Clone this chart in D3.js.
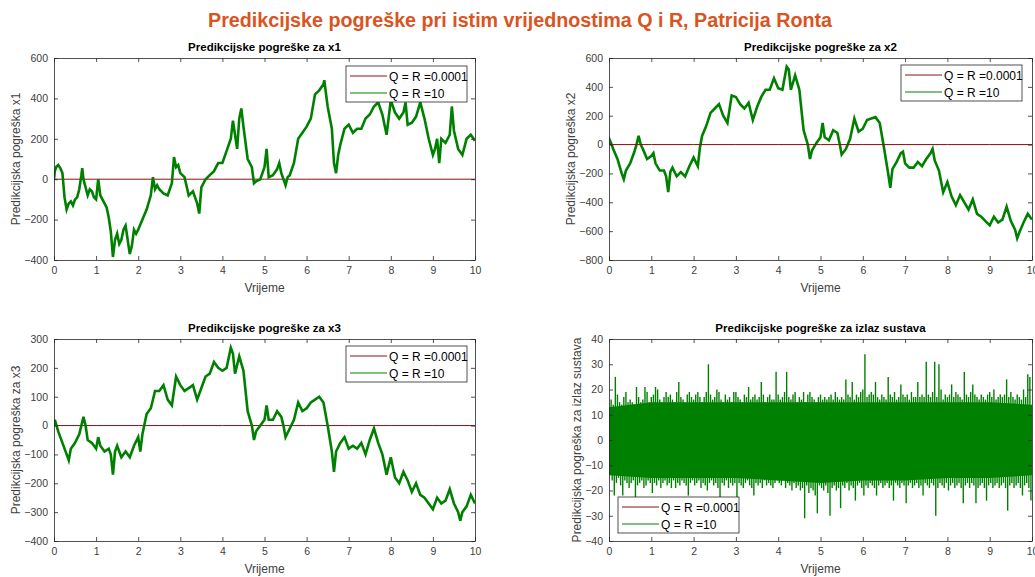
<!DOCTYPE html>
<html>
<head>
<meta charset="utf-8">
<script src="https://cdn.jsdelivr.net/npm/d3@7"></script>
<style>
  body { margin: 0; background: #fff; }
  svg { display: block; font-family: "Liberation Sans", Arial, sans-serif; }
</style>
</head>
<body>
<svg id="chart" width="1035" height="577"></svg>
<script>
// ---- data ----
var mainTitle = "Predikcijske pogreške pri istim vrijednostima Q i R, Patricija Ronta"
var legendLabels = ["Q = R =0.0001", "Q = R =10"]
var xTicks = [0, 1, 2, 3, 4, 5, 6, 7, 8, 9, 10]

// red series (Q = R = 0.0001) stays practically at zero
var redT = [0, 1, 2, 3, 4, 5, 6, 7, 8, 9, 10]
var redV = [0, 0, 0, 0, 0, 0, 0, 0, 0, 0, 0]

var x1T = [0, 0.02, 0.05, 0.1, 0.15, 0.2, 0.25, 0.3, 0.35, 0.4, 0.45, 0.5, 0.55, 0.6, 0.65, 0.67, 0.7, 0.75, 0.8, 0.85, 0.9, 0.95, 1.0, 1.05, 1.1, 1.15, 1.2, 1.25, 1.3, 1.35, 1.4, 1.45, 1.5, 1.55, 1.6, 1.65, 1.7, 1.75, 1.8, 1.85, 1.9, 1.95, 2.0, 2.1, 2.2, 2.3, 2.35, 2.4, 2.45, 2.5, 2.6, 2.7, 2.8, 2.85, 2.9, 2.95, 3.0, 3.1, 3.2, 3.3, 3.4, 3.45, 3.5, 3.6, 3.7, 3.8, 3.9, 4.0, 4.1, 4.2, 4.25, 4.3, 4.35, 4.4, 4.45, 4.5, 4.6, 4.7, 4.75, 4.8, 4.9, 5.0, 5.05, 5.1, 5.2, 5.3, 5.35, 5.4, 5.5, 5.55, 5.6, 5.7, 5.8, 5.9, 6.0, 6.1, 6.2, 6.3, 6.4, 6.42, 6.5, 6.6, 6.65, 6.7, 6.75, 6.8, 6.9, 7.0, 7.1, 7.2, 7.3, 7.4, 7.5, 7.6, 7.7, 7.8, 7.9, 8.0, 8.1, 8.2, 8.3, 8.35, 8.4, 8.5, 8.6, 8.7, 8.8, 8.9, 9.0, 9.05, 9.1, 9.15, 9.2, 9.3, 9.4, 9.45, 9.5, 9.6, 9.7, 9.8, 9.9, 10]
var x1V = [0, 40, 60, 70, 55, 30, -90, -150, -120, -110, -130, -100, -90, -50, 20, 55, 0, -40, -80, -50, -60, -90, -100, 0, -80, -100, -120, -140, -190, -260, -385, -300, -270, -320, -300, -250, -230, -300, -370, -330, -250, -270, -250, -200, -150, -80, 10, -50, -30, -50, -70, -80, -20, 110, 60, 70, 30, 10, -80, -60, -120, -170, -40, 0, 20, 40, 80, 80, 140, 200, 290, 220, 150, 300, 350, 260, 100, 60, -20, -10, 0, 60, 150, 10, 20, 50, 80, 30, -30, 10, 20, 80, 200, 230, 260, 300, 420, 440, 470, 490, 360, 250, 80, 30, 120, 170, 250, 270, 230, 250, 250, 300, 320, 360, 380, 320, 220, 390, 330, 300, 330, 380, 270, 280, 310, 380, 300, 200, 120, 150, 200, 80, 200, 180, 220, 360, 240, 150, 120, 200, 220, 190]

var x2T = [0, 0.02, 0.05, 0.1, 0.2, 0.3, 0.35, 0.4, 0.5, 0.6, 0.65, 0.7, 0.75, 0.8, 0.9, 1.0, 1.05, 1.1, 1.2, 1.3, 1.35, 1.4, 1.45, 1.5, 1.6, 1.7, 1.8, 1.9, 2.0, 2.1, 2.15, 2.2, 2.3, 2.4, 2.5, 2.6, 2.7, 2.8, 2.9, 3.0, 3.1, 3.2, 3.3, 3.4, 3.5, 3.6, 3.7, 3.8, 3.9, 4.0, 4.1, 4.2, 4.25, 4.3, 4.4, 4.5, 4.6, 4.7, 4.75, 4.8, 4.9, 5.0, 5.05, 5.1, 5.2, 5.3, 5.4, 5.45, 5.5, 5.6, 5.7, 5.8, 5.9, 6.0, 6.1, 6.2, 6.3, 6.4, 6.5, 6.6, 6.65, 6.7, 6.8, 6.9, 6.95, 7.0, 7.1, 7.2, 7.3, 7.4, 7.5, 7.6, 7.65, 7.7, 7.8, 7.9, 8.0, 8.1, 8.2, 8.3, 8.4, 8.5, 8.6, 8.7, 8.8, 8.9, 9.0, 9.1, 9.2, 9.3, 9.4, 9.5, 9.6, 9.65, 9.7, 9.8, 9.9, 10]
var x2V = [0, 30, 10, -30, -100, -200, -240, -180, -130, -50, 0, 60, 0, -30, -100, -80, -60, -130, -180, -180, -220, -330, -190, -160, -220, -190, -220, -150, -90, -150, -20, 60, 130, 220, 250, 280, 200, 150, 340, 330, 280, 250, 290, 170, 260, 330, 380, 380, 460, 390, 380, 540, 520, 380, 480, 380, 100, 0, -100, -40, 10, 50, 150, 50, 30, 100, 80, 10, -70, -30, 40, 180, 90, 110, 170, 180, 190, 150, -20, -200, -300, -170, -120, -60, -50, -130, -160, -160, -120, -150, -100, -60, -30, -110, -180, -330, -260, -360, -420, -350, -400, -450, -380, -480, -500, -530, -560, -500, -540, -520, -430, -530, -590, -650, -610, -540, -480, -520]

var x3T = [0, 0.02, 0.1, 0.2, 0.3, 0.35, 0.4, 0.5, 0.6, 0.7, 0.75, 0.8, 0.9, 1.0, 1.05, 1.1, 1.2, 1.3, 1.35, 1.4, 1.45, 1.5, 1.6, 1.7, 1.8, 1.9, 2.0, 2.05, 2.1, 2.2, 2.3, 2.4, 2.5, 2.6, 2.7, 2.8, 2.9, 3.0, 3.1, 3.2, 3.3, 3.4, 3.5, 3.6, 3.7, 3.8, 3.9, 4.0, 4.1, 4.2, 4.25, 4.3, 4.4, 4.5, 4.6, 4.7, 4.75, 4.8, 4.9, 5.0, 5.05, 5.1, 5.2, 5.3, 5.4, 5.45, 5.5, 5.6, 5.7, 5.8, 5.9, 6.0, 6.1, 6.2, 6.3, 6.4, 6.5, 6.6, 6.65, 6.7, 6.8, 6.9, 7.0, 7.1, 7.2, 7.3, 7.4, 7.5, 7.6, 7.7, 7.8, 7.9, 8.0, 8.1, 8.2, 8.3, 8.4, 8.5, 8.6, 8.7, 8.8, 8.9, 9.0, 9.1, 9.2, 9.3, 9.4, 9.5, 9.6, 9.65, 9.7, 9.8, 9.9, 10]
var x3V = [0, 20, -20, -60, -100, -120, -80, -60, -30, 30, 0, -50, -60, -80, -40, -70, -90, -80, -100, -170, -90, -70, -110, -90, -110, -70, -40, -90, -30, 40, 60, 120, 120, 140, 90, 70, 170, 140, 120, 130, 140, 90, 130, 170, 180, 220, 200, 190, 200, 270, 250, 180, 240, 190, 50, 0, -50, -20, 0, 20, 70, 20, 20, 50, 30, 0, -40, -10, 20, 80, 50, 60, 80, 90, 100, 80, 0, -90, -160, -90, -60, -40, -80, -70, -80, -60, -100, -50, -10, -60, -100, -170, -110, -180, -200, -160, -190, -230, -200, -240, -250, -270, -290, -250, -270, -260, -220, -270, -300, -330, -300, -280, -240, -270]

// output error: peak envelope every 0.05 s and the dense core band every 1 s
var outStep = 0.05
var outHi = [13, 16, 14, 25, 18, 15, 14, 17, 19, 15,
  16, 15, 14, 21, 17, 15, 16, 21, 19, 15,
  17, 18, 21, 20, 16, 15, 17, 19, 17, 18,
  16, 15, 19, 23, 17, 16, 14, 18, 19, 17,
  16, 18, 19, 17, 15, 17, 19, 30, 18, 16,
  17, 20, 19, 16, 15, 18, 16, 17, 15, 19,
  19, 17, 16, 15, 18, 17, 21, 16, 17, 18,
  16, 17, 23, 18, 15, 17, 18, 16, 16, 27,
  18, 16, 17, 19, 27, 17, 16, 18, 19, 15,
  17, 16, 19, 15, 18, 19, 17, 16, 15, 17,
  18, 16, 17, 16, 17, 18, 16, 19, 17, 16,
  17, 16, 24, 18, 17, 23, 16, 18, 17, 19,
  20, 34, 17, 18, 19, 18, 23, 17, 16, 18,
  17, 16, 25, 18, 17, 19, 16, 17, 22, 18,
  17, 18, 16, 19, 17, 17, 23, 17, 18, 17,
  31, 18, 17, 19, 31, 17, 30, 20, 16, 18,
  17, 18, 22, 17, 19, 18, 17, 16, 27, 18,
  17, 19, 22, 18, 17, 16, 18, 17, 16, 18,
  19, 17, 20, 16, 17, 18, 17, 18, 24, 17,
  19, 17, 16, 18, 17, 16, 20, 17, 26, 25, 14]
var outLo = [-14, -16, -22, -17, -15, -18, -22, -16, -17, -19,
  -17, -16, -24, -18, -17, -16, -19, -18, -16, -17,
  -21, -17, -18, -16, -19, -17, -16, -18, -17, -19,
  -16, -19, -17, -18, -16, -17, -18, -22, -17, -16,
  -18, -17, -16, -19, -17, -18, -20, -17, -16, -18,
  -17, -19, -25, -17, -18, -16, -19, -17, -18, -17,
  -26, -17, -18, -19, -17, -16, -18, -19, -22, -17,
  -18, -17, -19, -16, -18, -17, -18, -19, -17, -16,
  -17, -18, -16, -19, -17, -18, -20, -17, -19, -18,
  -20, -19, -31, -18, -21, -19, -20, -22, -29, -18,
  -19, -20, -18, -21, -30, -19, -18, -20, -19, -27,
  -18, -19, -17, -20, -18, -19, -24, -18, -17, -19,
  -22, -18, -19, -17, -18, -19, -22, -18, -17, -19,
  -18, -17, -19, -18, -24, -17, -18, -19, -17, -18,
  -25, -18, -17, -19, -18, -17, -19, -18, -22, -17,
  -18, -19, -17, -18, -30, -19, -17, -18, -19, -17,
  -20, -18, -17, -19, -18, -17, -19, -25, -18, -17,
  -19, -17, -18, -25, -19, -18, -17, -19, -24, -18,
  -17, -19, -18, -17, -19, -18, -17, -19, -28, -18,
  -17, -19, -18, -17, -19, -22, -18, -17, -19, -24, -16]
var coreT = [0, 1, 2, 3, 4, 5, 6, 7, 8, 9, 10]
var coreHi = [13, 15, 15, 15, 15, 15, 15, 15, 15, 15, 14]
var coreLo = [-14, -15, -15, -15, -16, -17, -16, -16, -15, -15, -14]

var red = "#8b1010"
var green = "#008000"
var axisColor = "#262626"
var labelColor = "#404040"

var svg = d3.select("#chart")

svg.append("text")
    .attr("x", 520)
    .attr("y", 27)
    .attr("text-anchor", "middle")
    .attr("textLength", 624)
    .attr("lengthAdjust", "spacingAndGlyphs")
    .style("font-size", "20px")
    .style("font-weight", "bold")
    .style("fill", "#d9541e")
    .text(mainTitle)

var zip = function(ts, vs) {
    return ts.map(function(t, i) { return [t, vs[i]] })
}

function panel(cfg) {
    var x = d3.scaleLinear().domain([0, 10]).range([cfg.left, cfg.right])
    var y = d3.scaleLinear().domain(cfg.yDomain).range([cfg.bottom, cfg.top])
    var g = svg.append("g")
    var w = cfg.right - cfg.left
    var h = cfg.bottom - cfg.top

    g.append("rect")
        .attr("x", cfg.left).attr("y", cfg.top)
        .attr("width", w).attr("height", h)
        .style("fill", "#fff")

    var clipId = "clip" + cfg.id
    g.append("clipPath").attr("id", clipId)
        .append("rect")
        .attr("x", cfg.left).attr("y", cfg.top - 1)
        .attr("width", w).attr("height", h + 2)

    var plot = g.append("g").attr("clip-path", "url(#" + clipId + ")")
    var line = d3.line()
        .x(function(d) { return x(d[0]) })
        .y(function(d) { return y(d[1]) })

    cfg.draw(plot, x, y, line)

    // axes with inward ticks on all four sides (box on)
    var yTicks = d3.range(cfg.yDomain[0], cfg.yDomain[1] + 1e-9, cfg.yStep)
    g.append("g")
        .attr("transform", "translate(0," + cfg.bottom + ")")
        .call(d3.axisBottom(x).tickValues(xTicks).tickSize(-4).tickPadding(7).tickSizeOuter(0))
    g.append("g")
        .attr("transform", "translate(0," + cfg.top + ")")
        .call(d3.axisTop(x).tickValues(xTicks).tickSize(-4).tickFormat("").tickSizeOuter(0))
    g.append("g")
        .attr("transform", "translate(" + cfg.left + ",0)")
        .call(d3.axisLeft(y).tickValues(yTicks).tickSize(-4).tickPadding(6).tickSizeOuter(0))
    g.append("g")
        .attr("transform", "translate(" + cfg.right + ",0)")
        .call(d3.axisRight(y).tickValues(yTicks).tickSize(-4).tickFormat("").tickSizeOuter(0))

    g.selectAll(".domain").style("stroke", axisColor).style("stroke-width", 0.8)
    g.selectAll(".tick line").style("stroke", axisColor).style("stroke-width", 0.8)
    g.selectAll(".tick text")
        .style("font-size", "10.5px")
        .style("fill", labelColor)
        .style("font-family", "Liberation Sans, Arial, sans-serif")

    g.append("text")
        .attr("x", (cfg.left + cfg.right) / 2)
        .attr("y", cfg.top - 7)
        .attr("text-anchor", "middle")
        .style("font-size", "11.5px")
        .style("font-weight", "bold")
        .style("fill", "#000")
        .text(cfg.title)

    g.append("text")
        .attr("x", (cfg.left + cfg.right) / 2)
        .attr("y", cfg.bottom + 32)
        .attr("text-anchor", "middle")
        .style("font-size", "12px")
        .style("fill", labelColor)
        .text("Vrijeme")

    g.append("text")
        .attr("transform", "translate(" + cfg.yLabelX + "," + ((cfg.top + cfg.bottom) / 2) + ") rotate(-90)")
        .attr("text-anchor", "middle")
        .style("font-size", "12px")
        .style("fill", labelColor)
        .text(cfg.yLabel)

    // legend
    var lg = g.append("g").attr("transform", "translate(" + cfg.legend[0] + "," + cfg.legend[1] + ")")
    lg.append("rect")
        .attr("width", 121).attr("height", 36)
        .style("fill", "#fff")
        .style("stroke", axisColor)
        .style("stroke-width", 0.8)
    var colors = [red, green]
    legendLabels.forEach(function(lab, i) {
        var ly = 10 + i * 17
        lg.append("line")
            .attr("x1", 4).attr("x2", 41)
            .attr("y1", ly).attr("y2", ly)
            .style("stroke", colors[i])
            .style("stroke-width", 1)
        lg.append("text")
            .attr("x", 43).attr("y", ly + 4.5)
            .style("font-size", "12px")
            .style("fill", "#000")
            .text(lab)
    })
}

function walk(ts, vs, redOnTop) {
    return function(plot, x, y, line) {
        var drawRed = function() {
            plot.append("path").datum(zip(redT, redV))
                .attr("d", line)
                .style("fill", "none").style("stroke", red).style("stroke-width", 1)
        }
        if (!redOnTop) drawRed()
        plot.append("path").datum(zip(ts, vs))
            .attr("d", line)
            .style("fill", "none")
            .style("stroke", green)
            .style("stroke-width", 2.6)
            .style("stroke-linejoin", "miter")
        if (redOnTop) drawRed()
    }
}

panel({
    id: 1, left: 54, right: 475, top: 58, bottom: 260,
    yDomain: [-400, 600], yStep: 200,
    title: "Predikcijske pogreške za x1",
    yLabel: "Predikcijska pogreška x1", yLabelX: 20,
    legend: [346, 66],
    draw: walk(x1T, x1V, false)
})

panel({
    id: 2, left: 609, right: 1032, top: 58, bottom: 260,
    yDomain: [-800, 600], yStep: 200,
    title: "Predikcijske pogreške za x2",
    yLabel: "Predikcijska pogreška x2", yLabelX: 575,
    legend: [901, 65],
    draw: walk(x2T, x2V, true)
})

panel({
    id: 3, left: 54, right: 475, top: 339, bottom: 541,
    yDomain: [-400, 300], yStep: 100,
    title: "Predikcijske pogreške za x3",
    yLabel: "Predikcijska pogreška za x3", yLabelX: 20,
    legend: [346, 346],
    draw: walk(x3T, x3V, false)
})

panel({
    id: 4, left: 609, right: 1032, top: 339, bottom: 541,
    yDomain: [-40, 40], yStep: 10,
    title: "Predikcijske pogreške za izlaz sustava",
    yLabel: "Predikcijska pogreška za izlaz sustava", yLabelX: 581,
    legend: [618, 497],
    draw: function(plot, x, y, line) {
        plot.append("path").datum(zip(redT, redV))
            .attr("d", line)
            .style("fill", "none").style("stroke", red).style("stroke-width", 1)
        // dense core of the noise
        var area = d3.area()
            .x(function(d) { return x(d[0]) })
            .y0(function(d) { return y(d[1]) })
            .y1(function(d) { return y(d[2]) })
        plot.append("path")
            .datum(coreT.map(function(t, i) { return [t, coreLo[i], coreHi[i]] }))
            .attr("d", area)
            .style("fill", green)
        // spikes: vertical bars up to each peak and down to each trough
        var bars = plot.append("g").style("stroke", green).style("stroke-width", 1.4)
        outHi.forEach(function(v, i) {
            var t = i * outStep
            bars.append("line")
                .attr("x1", x(t)).attr("x2", x(t))
                .attr("y1", y(0)).attr("y2", y(v))
            bars.append("line")
                .attr("x1", x(t + outStep / 2)).attr("x2", x(t + outStep / 2))
                .attr("y1", y(0)).attr("y2", y(outLo[i]))
        })
    }
})
</script>
</body>
</html>
